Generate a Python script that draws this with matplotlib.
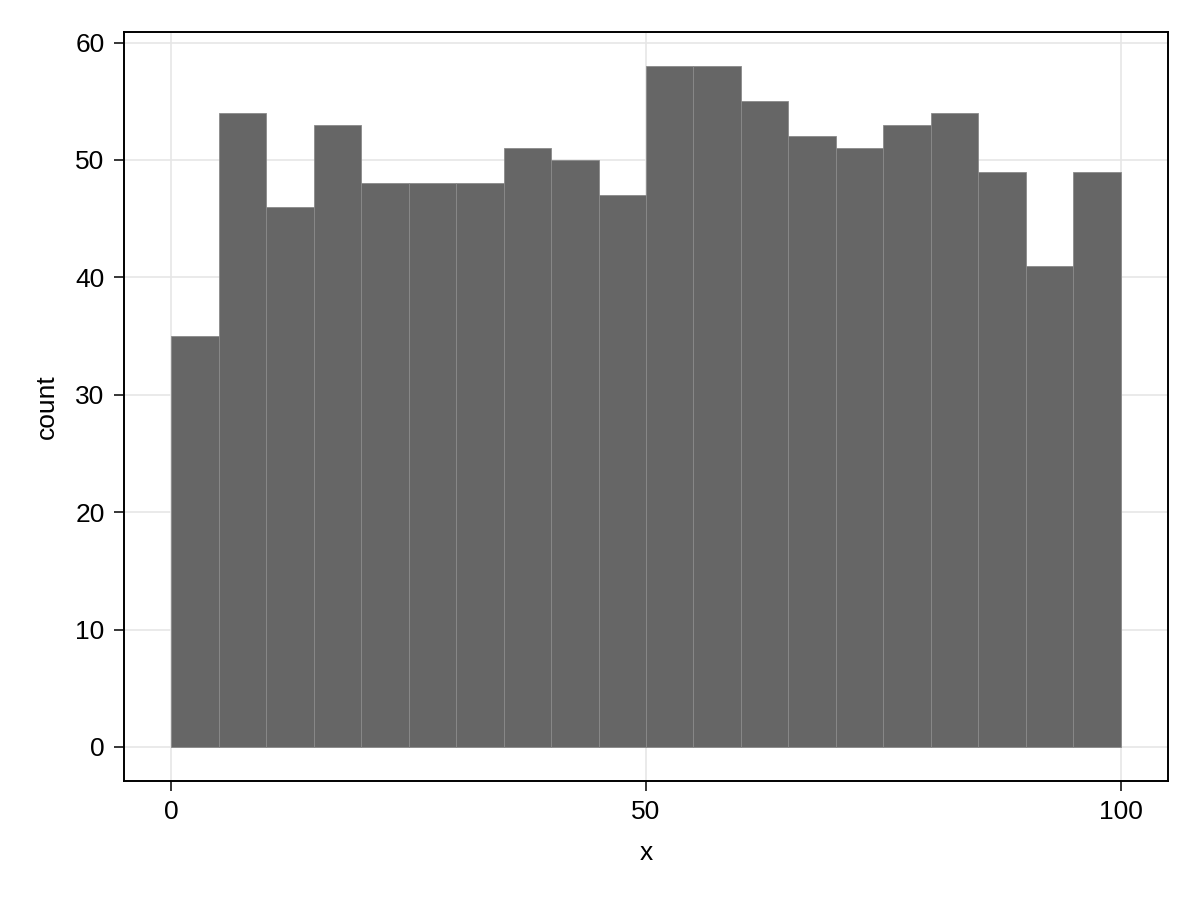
import matplotlib.pyplot as plt

plt.rcParams['font.family'] = ['Liberation Sans', 'DejaVu Sans']

bin_edges = list(range(0, 105, 5))
counts = [35, 54, 46, 53, 48, 48, 48, 51, 50, 47,
          58, 58, 55, 52, 51, 53, 54, 49, 41, 49]

fig = plt.figure(figsize=(12, 9), dpi=100)
ax = fig.add_axes([124 / 1200, 1 - 781 / 900, (1168 - 124) / 1200, (781 - 32) / 900])

ax.bar(bin_edges[:-1], counts, width=5, align='edge', color='#666666',
       edgecolor='#8a8a8a', linewidth=0.6, zorder=2)

ax.set_xlim(-5, 105)
ax.set_ylim(-2.9, 60.9)
ax.set_xticks([0, 50, 100])
ax.set_yticks(range(0, 61, 10))
ax.grid(True, color='#e6e6e6', linewidth=1.2, zorder=0)
ax.set_axisbelow(True)
ax.tick_params(direction='out', length=7, width=1.1, labelsize=19, pad=7)
for s in ax.spines.values():
    s.set_linewidth(1.4)

ax.set_xlabel('x', fontsize=19, labelpad=12)
ax.set_ylabel('count', fontsize=19, labelpad=12)

fig.savefig('out.png')
